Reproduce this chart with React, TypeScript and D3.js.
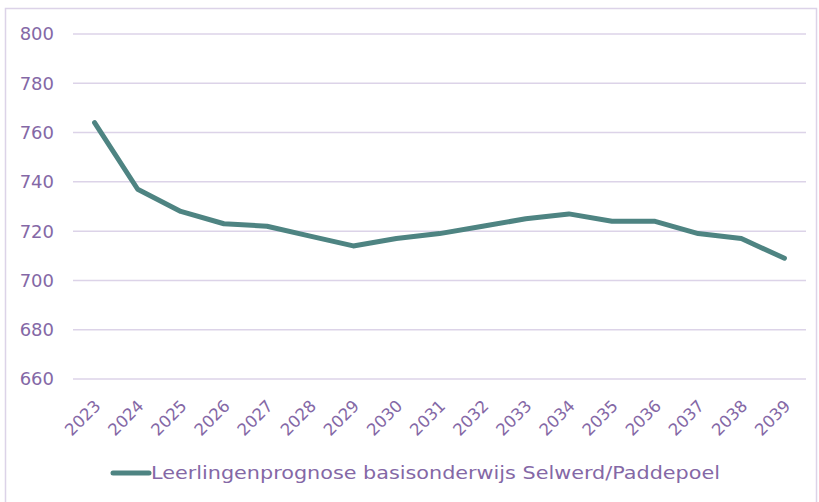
import React from "react";
import * as d3 from "d3";

const years = [
  "2023", "2024", "2025", "2026", "2027", "2028", "2029", "2030", "2031",
  "2032", "2033", "2034", "2035", "2036", "2037", "2038", "2039"
];
const leerlingen = [764, 737, 728, 723, 722, 718, 714, 717, 719, 722, 725, 727, 724, 724, 719, 717, 709];
const yTicks = [660, 680, 700, 720, 740, 760, 780, 800];
const seriesName = "Leerlingenprognose basisonderwijs Selwerd/Paddepoel";

const W = 819, H = 502;
const margin = { left: 73, right: 13, top: 34, bottom: 123 };
const textColor = "#8468a6";
const gridColor = "#dcd3e8";
const lineColor = "#4e8482";
const font = "'DejaVu Sans', 'Lato', sans-serif";

export default function App() {
  const x = d3
    .scalePoint<string>()
    .domain(years)
    .range([margin.left, W - margin.right])
    .padding(0.5);

  const y = d3
    .scaleLinear()
    .domain([660, 800])
    .range([H - margin.bottom, margin.top]);

  const line = d3
    .line<number>()
    .x((_, i) => x(years[i]) as number)
    .y(d => y(d));

  return (
    <div style={{ position: "absolute", left: 0, top: 0 }}>
      <svg width={W} height={H} style={{ display: "block", fontFamily: font }}>
        <rect x={0} y={0} width={W} height={H} fill="#fff" />
        {/* frame */}
        <rect x={5.5} y={8.5} width={811} height={520} fill="none" stroke={gridColor} strokeWidth={1.5} />

        {/* grid + y labels */}
        {yTicks.map(t => (
          <g key={t}>
            <line
              x1={margin.left}
              x2={W - margin.right}
              y1={y(t)}
              y2={y(t)}
              stroke={gridColor}
              strokeWidth={1.5}
            />
            <text
              x={54}
              y={y(t)}
              dy="0.36em"
              textAnchor="end"
              fill={textColor}
              fontSize={18}
            >
              {t}
            </text>
          </g>
        ))}

        {/* x labels, rotated */}
        {years.map(yr => {
          const px = (x(yr) as number) + 7;
          const py = 407;
          return (
            <text
              key={yr}
              transform={`translate(${px},${py}) rotate(-45)`}
              textAnchor="end"
              fill={textColor}
              fontSize={16.5}
            >
              {yr}
            </text>
          );
        })}

        {/* series */}
        <path
          d={line(leerlingen) || ""}
          fill="none"
          stroke={lineColor}
          strokeWidth={5}
          strokeLinejoin="round"
          strokeLinecap="round"
        />

        {/* legend */}
        <line x1={113} x2={149} y1={473} y2={473} stroke={lineColor} strokeWidth={5} strokeLinecap="round" />
        <text
          x={151}
          y={473}
          dy="0.36em"
          fill={textColor}
          fontSize={18}
          textLength={569}
          lengthAdjust="spacingAndGlyphs"
        >
          {seriesName}
        </text>
      </svg>
    </div>
  );
}
